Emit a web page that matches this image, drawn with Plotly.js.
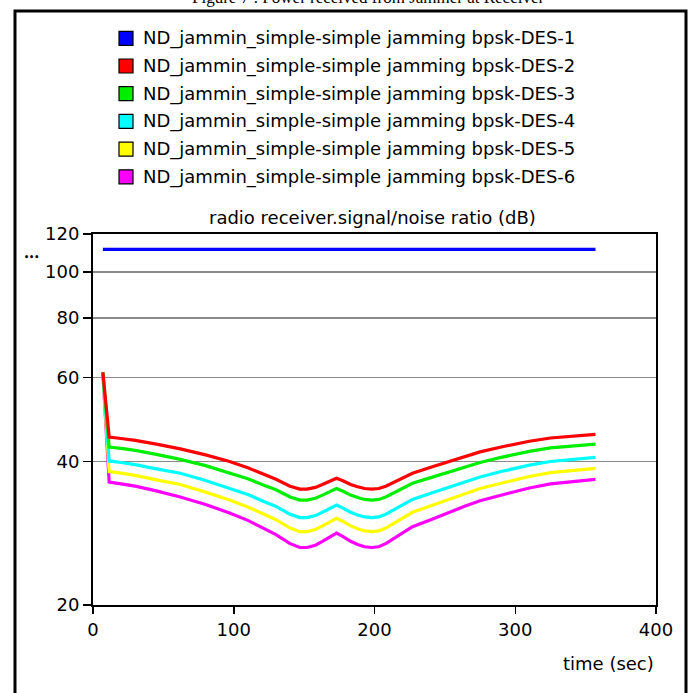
<!DOCTYPE html>
<html>
<head>
<meta charset="utf-8">
<script src="https://cdn.plot.ly/plotly-3.0.1.min.js"></script>
<style>html,body{margin:0;padding:0;background:#fff;}#chart{width:693px;height:693px;}</style>
</head>
<body>
<div id="chart"></div>
<script>
// ---- data ----
var seriesNames = [
  "ND_jammin_simple-simple jamming bpsk-DES-1",
  "ND_jammin_simple-simple jamming bpsk-DES-2",
  "ND_jammin_simple-simple jamming bpsk-DES-3",
  "ND_jammin_simple-simple jamming bpsk-DES-4",
  "ND_jammin_simple-simple jamming bpsk-DES-5",
  "ND_jammin_simple-simple jamming bpsk-DES-6"
];
var seriesColors = ["#0000ff", "#ff0000", "#00ee00", "#00ffff", "#ffff00", "#ff00ff"];

var timeBlue = [7, 357];
var valBlue = [111.4, 111.4];

var timeSec = [7, 11.5, 20, 30, 45, 62, 80, 97, 110, 121, 130, 140, 147, 152, 158, 163, 168, 173, 178, 183, 188, 193, 198, 203, 208, 216, 227, 240, 254, 265, 275, 290, 310, 325, 340, 357];
var valDes2 = [61.5, 45.0, 44.7, 44.3, 43.5, 42.5, 41.3, 40.0, 38.8, 37.6, 36.7, 35.5, 35.0, 35.0, 35.3, 35.8, 36.4, 36.9, 36.4, 35.8, 35.4, 35.1, 35.0, 35.1, 35.5, 36.5, 37.8, 38.9, 40.1, 41.0, 41.9, 42.9, 44.1, 44.8, 45.2, 45.6];
var valDes3 = [61.5, 42.9, 42.6, 42.2, 41.4, 40.4, 39.2, 37.9, 36.8, 35.7, 34.9, 33.7, 33.2, 33.2, 33.5, 34.0, 34.6, 35.1, 34.6, 34.0, 33.6, 33.3, 33.2, 33.3, 33.7, 34.7, 36.0, 37.0, 38.1, 39.0, 39.8, 40.8, 42.0, 42.7, 43.1, 43.5];
var valDes4 = [61.5, 40.1, 39.8, 39.4, 38.6, 37.8, 36.5, 35.2, 34.1, 33.0, 32.2, 31.0, 30.5, 30.5, 30.8, 31.3, 31.9, 32.4, 31.9, 31.3, 30.9, 30.6, 30.5, 30.6, 31.0, 32.0, 33.3, 34.3, 35.4, 36.3, 37.1, 38.1, 39.3, 40.0, 40.4, 40.8];
var valDes5 = [61.5, 38.1, 37.8, 37.4, 36.6, 35.8, 34.5, 33.2, 32.1, 31.0, 30.2, 29.0, 28.5, 28.5, 28.8, 29.3, 29.9, 30.4, 29.9, 29.3, 28.9, 28.6, 28.5, 28.6, 29.0, 30.0, 31.3, 32.3, 33.4, 34.3, 35.1, 36.0, 37.2, 37.9, 38.3, 38.7];
var valDes6 = [61.5, 36.2, 35.9, 35.5, 34.7, 33.7, 32.5, 31.2, 30.1, 29.0, 28.1, 26.9, 26.4, 26.4, 26.7, 27.2, 27.8, 28.3, 27.8, 27.2, 26.8, 26.5, 26.4, 26.5, 26.9, 27.9, 29.2, 30.2, 31.4, 32.3, 33.1, 34.0, 35.2, 35.9, 36.3, 36.7];

var xTicks = [0, 100, 200, 300, 400];
var yTicks = [20, 40, 60, 80, 100, 120];

var figTitle = "Figure 7 : Power received from Jammer at Receiver";
var plotTitle = "radio receiver.signal/noise ratio (dB)";
var xTitle = "time (sec)";

// ---- layout helpers (pixel -> paper) ----
var L = 93, R = 656, T = 234, B = 605;
function px(x) { return (x - L) / (R - L); }
function py(y) { return (B - y) / (B - T); }

var FONT = "DejaVu Sans";

var seriesX = [timeBlue, timeSec, timeSec, timeSec, timeSec, timeSec];
var seriesY = [valBlue, valDes2, valDes3, valDes4, valDes5, valDes6];
var drawOrder = [0, 5, 4, 3, 2, 1];

var traces = drawOrder.map(function (i) {
  return {
    type: "scatter", mode: "lines",
    x: seriesX[i], y: seriesY[i],
    name: seriesNames[i],
    line: { color: seriesColors[i], width: 3.2, shape: "linear" },
    showlegend: false, hoverinfo: "skip"
  };
});

var shapes = [];
var annotations = [];

// outer frame
shapes.push({ type: "rect", xref: "paper", yref: "paper",
  x0: px(15), x1: px(686), y0: py(720), y1: py(11),
  line: { color: "#000", width: 3 }, fillcolor: "rgba(0,0,0,0)" });

// manual legend
var rowY0 = 38.3, rowStep = 27.7;
seriesNames.forEach(function (n, i) {
  var cy = rowY0 + i * rowStep;
  shapes.push({ type: "rect", xref: "paper", yref: "paper",
    x0: px(119), x1: px(133), y0: py(cy + 7), y1: py(cy - 7),
    fillcolor: seriesColors[i], line: { color: "#000", width: 1.2 } });
  annotations.push({ xref: "paper", yref: "paper", x: px(141), y: py(cy),
    xanchor: "left", yanchor: "middle", showarrow: false, text: n,
    font: { family: FONT, size: 18, color: "#000" } });
});

annotations.push({ xref: "paper", yref: "paper", x: px(368), y: py(9),
  xanchor: "center", yanchor: "bottom", showarrow: false, text: figTitle,
  font: { family: "Liberation Serif", size: 17, color: "#000" } });
annotations.push({ xref: "paper", yref: "paper", x: px(372), y: py(218),
  xanchor: "center", yanchor: "middle", showarrow: false, text: plotTitle,
  font: { family: FONT, size: 18, color: "#000" } });
annotations.push({ xref: "paper", yref: "paper", x: px(656), y: py(663),
  xanchor: "right", yanchor: "middle", showarrow: false, text: xTitle,
  font: { family: FONT, size: 18, color: "#000" } });
annotations.push({ xref: "paper", yref: "paper", x: px(31), y: py(257),
  xanchor: "center", yanchor: "middle", showarrow: false, text: "<b>•••</b>",
  font: { family: FONT, size: 8, color: "#000" } });

var layout = {
  width: 693, height: 693,
  margin: { l: L, r: 693 - R, t: T, b: 693 - B, pad: 0 },
  paper_bgcolor: "#fff", plot_bgcolor: "#fff",
  showlegend: false,
  font: { family: FONT, size: 18, color: "#000" },
  xaxis: {
    range: [0, 400], tickvals: xTicks, ticktext: xTicks.map(String),
    showgrid: false, zeroline: false,
    showline: true, linecolor: "#000", linewidth: 2, mirror: true,
    ticks: "outside", ticklen: 7, tickwidth: 1.5, tickcolor: "#000",
    tickfont: { family: FONT, size: 18, color: "#000" }
  },
  yaxis: {
    type: "log", range: [Math.log10(20), Math.log10(120)],
    tickvals: yTicks, ticktext: yTicks.map(String),
    showgrid: true, gridcolor: "#8a8a8a", gridwidth: 1.5, zeroline: false,
    showline: true, linecolor: "#000", linewidth: 2, mirror: true,
    ticks: "outside", ticklen: 8, tickwidth: 1.5, tickcolor: "#000",
    tickfont: { family: FONT, size: 18, color: "#000" }
  },
  shapes: shapes,
  annotations: annotations
};

Plotly.newPlot("chart", traces, layout, { staticPlot: true, displayModeBar: false });
</script>
</body>
</html>
